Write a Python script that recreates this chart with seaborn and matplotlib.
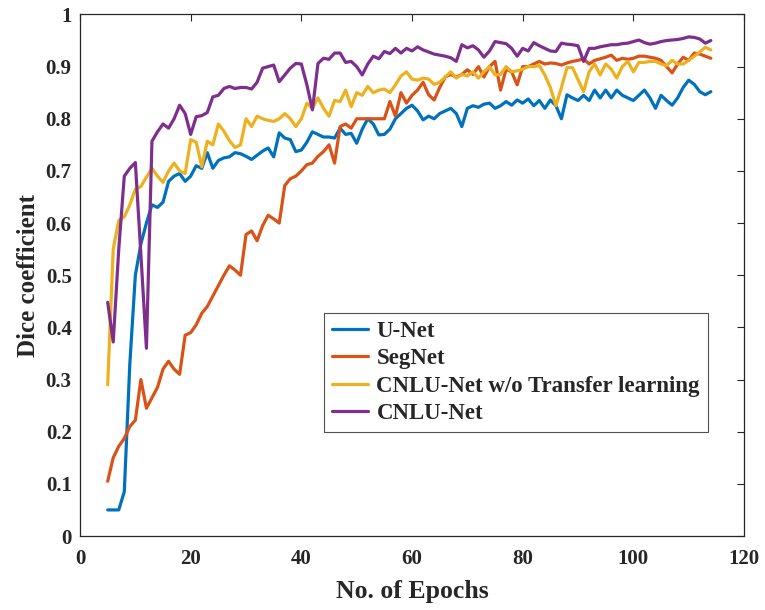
import numpy as np
import pandas as pd
import matplotlib
matplotlib.use('Agg')
import matplotlib.pyplot as plt
import seaborn as sns

# epochs 5..114
epochs = list(range(5, 115))

unet = [0.05, 0.05, 0.05, 0.085, 0.33, 0.50, 0.56, 0.60, 0.635, 0.63,
        0.64, 0.68, 0.69, 0.695, 0.68, 0.69, 0.71, 0.705, 0.735, 0.705,
        0.72, 0.725, 0.727, 0.735, 0.733, 0.728, 0.722, 0.73, 0.738, 0.744,
        0.727, 0.773, 0.763, 0.76, 0.737, 0.74, 0.755, 0.775, 0.77, 0.765,
        0.765, 0.763, 0.782, 0.77, 0.772, 0.753, 0.78, 0.80, 0.79, 0.769,
        0.77, 0.78, 0.80, 0.81, 0.82, 0.826, 0.815, 0.798, 0.805, 0.80,
        0.81, 0.815, 0.82, 0.81, 0.785, 0.82, 0.825, 0.822, 0.828, 0.83,
        0.82, 0.825, 0.833, 0.826, 0.836, 0.83, 0.838, 0.825, 0.835, 0.82,
        0.836, 0.825, 0.80, 0.846, 0.84, 0.835, 0.845, 0.835, 0.855, 0.84,
        0.855, 0.84, 0.855, 0.845, 0.84, 0.835, 0.845, 0.855, 0.84, 0.82,
        0.845, 0.835, 0.826, 0.84, 0.86, 0.874, 0.866, 0.852, 0.846, 0.852]

segnet = [0.105, 0.15, 0.172, 0.187, 0.21, 0.222, 0.30, 0.245, 0.265, 0.285,
          0.32, 0.335, 0.32, 0.31, 0.385, 0.39, 0.405, 0.427, 0.44, 0.46,
          0.48, 0.50, 0.518, 0.51, 0.50, 0.578, 0.585, 0.566, 0.595, 0.615,
          0.608, 0.60, 0.672, 0.685, 0.69, 0.70, 0.712, 0.715, 0.728, 0.737,
          0.75, 0.715, 0.785, 0.79, 0.782, 0.80, 0.80, 0.80, 0.80, 0.80,
          0.80, 0.833, 0.805, 0.85, 0.83, 0.845, 0.855, 0.87, 0.846, 0.836,
          0.86, 0.88, 0.885, 0.88, 0.885, 0.894, 0.885, 0.90, 0.88, 0.90,
          0.91, 0.855, 0.895, 0.89, 0.865, 0.90, 0.90, 0.905, 0.91, 0.905,
          0.907, 0.906, 0.903, 0.907, 0.91, 0.912, 0.915, 0.905, 0.912, 0.915,
          0.918, 0.922, 0.912, 0.916, 0.914, 0.916, 0.92, 0.92, 0.918, 0.916,
          0.912, 0.90, 0.888, 0.905, 0.918, 0.912, 0.926, 0.924, 0.92, 0.916]

cnlu_no_tl = [0.29, 0.55, 0.605, 0.612, 0.635, 0.665, 0.67, 0.688, 0.705, 0.69,
              0.678, 0.70, 0.715, 0.70, 0.695, 0.76, 0.755, 0.708, 0.757, 0.75,
              0.79, 0.776, 0.758, 0.745, 0.75, 0.80, 0.785, 0.805, 0.80, 0.797,
              0.795, 0.80, 0.81, 0.80, 0.785, 0.80, 0.83, 0.82, 0.84, 0.82,
              0.805, 0.835, 0.833, 0.855, 0.823, 0.85, 0.845, 0.862, 0.85, 0.855,
              0.857, 0.85, 0.865, 0.882, 0.89, 0.876, 0.874, 0.878, 0.876, 0.866,
              0.87, 0.88, 0.89, 0.878, 0.885, 0.882, 0.89, 0.878, 0.89, 0.90,
              0.884, 0.885, 0.90, 0.89, 0.892, 0.895, 0.90, 0.90, 0.902, 0.884,
              0.86, 0.825, 0.86, 0.898, 0.898, 0.875, 0.852, 0.89, 0.905, 0.884,
              0.905, 0.895, 0.878, 0.90, 0.91, 0.89, 0.908, 0.908, 0.91, 0.91,
              0.905, 0.902, 0.912, 0.905, 0.905, 0.912, 0.92, 0.928, 0.937, 0.932]

cnlu = [0.448, 0.372, 0.55, 0.69, 0.705, 0.716, 0.54, 0.36, 0.757, 0.775,
        0.79, 0.782, 0.80, 0.826, 0.81, 0.77, 0.804, 0.806, 0.812, 0.842,
        0.845, 0.858, 0.862, 0.858, 0.86, 0.86, 0.857, 0.87, 0.897, 0.90,
        0.903, 0.871, 0.884, 0.897, 0.906, 0.905, 0.865, 0.817, 0.906, 0.916,
        0.914, 0.926, 0.926, 0.908, 0.91, 0.90, 0.884, 0.905, 0.92, 0.915,
        0.929, 0.925, 0.935, 0.926, 0.935, 0.93, 0.938, 0.932, 0.928, 0.924,
        0.922, 0.92, 0.917, 0.91, 0.942, 0.936, 0.94, 0.932, 0.918, 0.93,
        0.948, 0.946, 0.944, 0.935, 0.92, 0.935, 0.93, 0.946, 0.94, 0.935,
        0.93, 0.929, 0.945, 0.943, 0.942, 0.94, 0.91, 0.935, 0.935, 0.938,
        0.94, 0.942, 0.942, 0.944, 0.945, 0.948, 0.951, 0.946, 0.943, 0.945,
        0.948, 0.95, 0.951, 0.952, 0.954, 0.957, 0.956, 0.953, 0.945, 0.95]

series_names = ['U-Net', 'SegNet', 'CNLU-Net w/o Transfer learning', 'CNLU-Net']
series_colors = ['#0072BD', '#D95319', '#EDB120', '#7E2F8E']

x_ticks = [0, 20, 40, 60, 80, 100, 120]
y_ticks = [0, 0.1, 0.2, 0.3, 0.4, 0.5, 0.6, 0.7, 0.8, 0.9, 1.0]
y_tick_labels = ['0', '0.1', '0.2', '0.3', '0.4', '0.5', '0.6', '0.7', '0.8', '0.9', '1']

# long form table for seaborn
df = pd.DataFrame({
    'Epoch': epochs * 4,
    'Dice': unet + segnet + cnlu_no_tl + cnlu,
    'Model': sum([[n] * len(epochs) for n in series_names], []),
})

sns.set_style('white')
plt.rcParams['font.family'] = ['Liberation Serif', 'DejaVu Serif']
plt.rcParams['font.weight'] = 'bold'

fig = plt.figure(figsize=(7.65, 6.1), dpi=100)
ax = fig.add_axes([0.1046, 0.1213, 0.868, 0.855])

sns.lineplot(data=df, x='Epoch', y='Dice', hue='Model', hue_order=series_names,
             palette=series_colors, linewidth=2.3, ax=ax, sort=False)

ax.set_xlim(0, 120)
ax.set_ylim(0, 1)
ax.set_xticks(x_ticks)
ax.set_xticklabels([str(t) for t in x_ticks], fontsize=15, fontweight='bold')
ax.set_yticks(y_ticks)
ax.set_yticklabels(y_tick_labels, fontsize=15, fontweight='bold')
ax.tick_params(direction='in', top=True, right=True, length=5, width=0.8)
ax.tick_params(axis='x', pad=9)
ax.tick_params(axis='y', pad=6)

ax.set_xlabel('No. of Epochs', fontsize=18.5, fontweight='bold', labelpad=8)
ax.set_ylabel('Dice coefficient', fontsize=18, fontweight='bold', labelpad=4)

for s in ax.spines.values():
    s.set_color('#262626')
    s.set_linewidth(0.9)

leg = ax.legend(loc='upper left', bbox_to_anchor=(0.367, 0.428), borderaxespad=0,
                fontsize=16.5, frameon=True, fancybox=False, edgecolor='#262626',
                handlelength=1.6, handletextpad=0.35, borderpad=0.35,
                labelspacing=0.28)
leg.get_frame().set_linewidth(0.8)
for t in leg.get_texts():
    t.set_fontweight('bold')

fig.savefig('out.png', dpi=100)
